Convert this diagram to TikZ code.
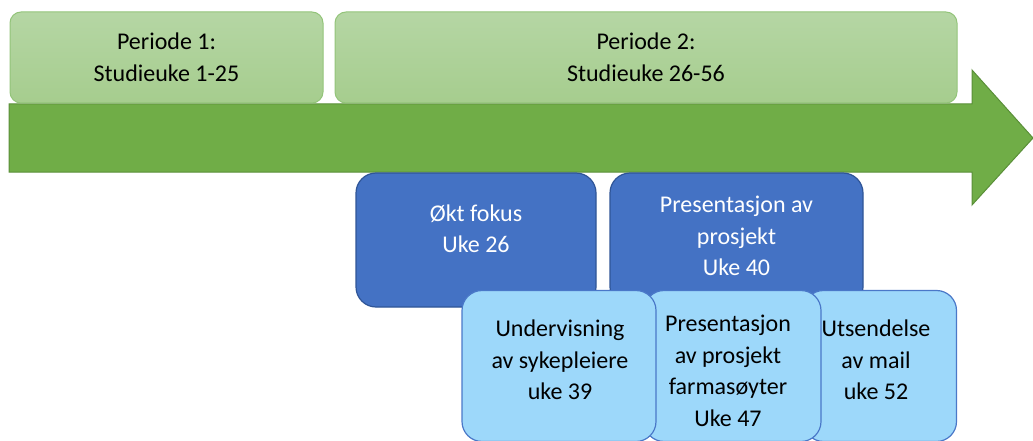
\documentclass[tikz,border=0pt]{standalone}
\usepackage{fontspec}
\setmainfont{Carlito}
\definecolor{arrowfill}{HTML}{70AD47}
\definecolor{arrowline}{HTML}{5A8F38}
\definecolor{pertop}{HTML}{B5D6A4}
\definecolor{perbot}{HTML}{A6CD8E}
\definecolor{perline}{HTML}{93C47A}
\definecolor{darkfill}{HTML}{4472C4}
\definecolor{darkline}{HTML}{2F5597}
\definecolor{lightfill}{HTML}{9DD8FA}
\definecolor{lightline}{HTML}{4A78C8}
\tikzset{
  txt/.style={font=\fontsize{24}{31.5}\selectfont, align=center, inner sep=0pt},
  perbox/.style={draw=perline, line width=1pt, top color=pertop, bottom color=perbot, rounded corners=11pt, inner sep=0pt},
  darkbox/.style={draw=darkline, line width=1.2pt, fill=darkfill, rounded corners=20pt, inner sep=0pt},
  lightbox/.style={draw=lightline, line width=1.2pt, fill=lightfill, rounded corners=20pt, inner sep=0pt},
}
\begin{document}
\begin{tikzpicture}[x=1pt,y=-1pt]
\useasboundingbox (0,0) rectangle (1033,441);
% arrow
\draw[fill=arrowfill, draw=arrowline, line width=1pt]
  (9,104) -- (972,104) -- (972,70) -- (1033,138) -- (972,205) -- (972,172) -- (9,172) -- cycle;
% period boxes
\node[perbox, minimum width=313pt, minimum height=91pt] (p1) at (166.5,57.5) {};
\node[txt, text=black] (p1t) at (166.5,57.5) {Periode 1:\\Studieuke 1-25};
\node[perbox, minimum width=622pt, minimum height=91pt] (p2) at (646,57.5) {};
\node[txt, text=black] (p2t) at (646,57.5) {Periode 2:\\Studieuke 26-56};
% dark boxes
\node[darkbox, minimum width=240pt, minimum height=134pt] (d1) at (476,240) {};
\node[txt, text=white] (d1t) at (476,229) {Økt fokus\\Uke 26};
\node[darkbox, minimum width=253pt, minimum height=134pt] (d2) at (736.5,240) {};
\node[txt, text=white] (d2t) at (736.5,236) {Presentasjon av\\prosjekt\\Uke 40};
% light boxes
\node[lightbox, minimum width=153pt, minimum height=151pt] (l3) at (880,366) {};
\node[txt, text=black] (l3t) at (876,360) {Utsendelse\\av mail\\uke 52};
\node[lightbox, minimum width=177pt, minimum height=151pt] (l2) at (732.5,366) {};
\node[txt, text=black] (l2t) at (728,371) {Presentasjon\\av prosjekt\\farmasøyter\\Uke 47};
\node[lightbox, minimum width=194pt, minimum height=151pt] (l1) at (559,366) {};
\node[txt, text=black] (l1t) at (560,360) {Undervisning\\av sykepleiere\\uke 39};
\end{tikzpicture}
\end{document}
